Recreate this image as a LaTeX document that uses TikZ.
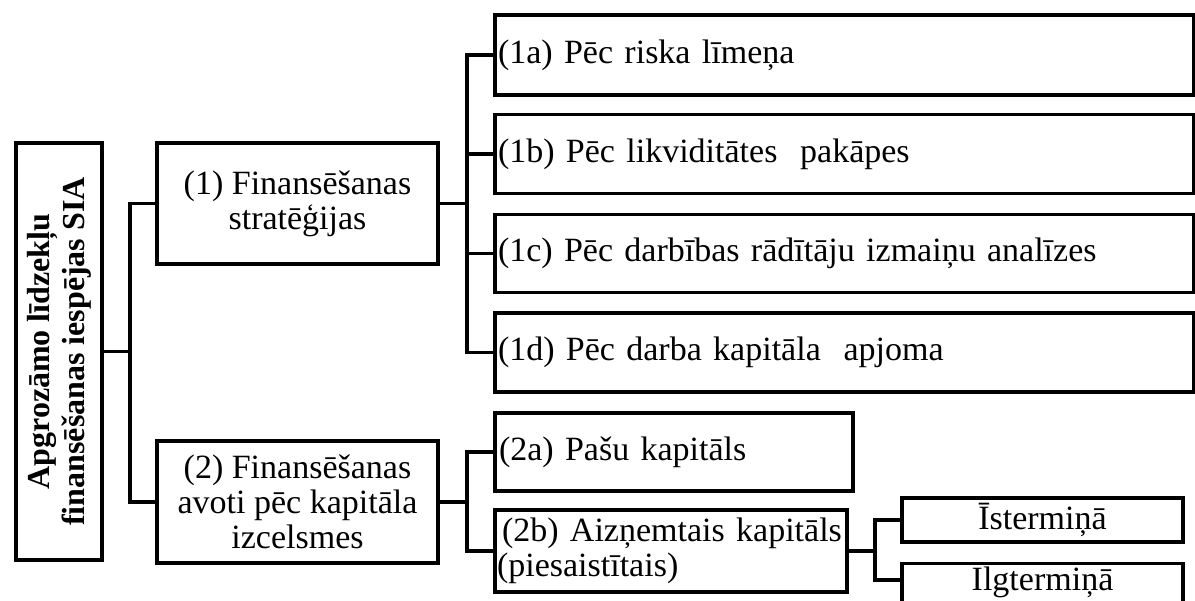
\documentclass[tikz,border=0pt]{standalone}
\usepackage{fontspec}
\setmainfont{Liberation Serif}
\tikzset{
  box/.style={draw, line width=3.4pt, inner sep=0pt, font=\fontsize{34}{35}\selectfont},
  leftbox/.style={box, inner xsep=3pt, align=left},
  conn/.style={line width=3.2pt, line join=miter},
}
\begin{document}
\begin{tikzpicture}[x=1pt,y=-1pt]
\useasboundingbox (0,0) rectangle (1195,601);
% root
\node[box, rotate=90, minimum width=417pt, minimum height=86pt, align=center,
      font=\fontsize{32}{35}\selectfont\bfseries] (root) at (59,351.5)
  {Apgrozāmo līdzekļu\\finansēšanas iespējas SIA};
% level 1
\node[box, minimum width=281pt, minimum height=121pt, align=center] (n1) at (297.5,203.5)
  {(1) Finansēšanas\\stratēģijas};
\node[box, minimum width=281pt, minimum height=122pt, align=center] (n2) at (297.5,502)
  {(2) Finansēšanas\\avoti pēc kapitāla\\izcelsmes};
% level 2 under (1)
\node[leftbox, minimum width=699pt, text width=693pt, minimum height=80pt] (c1a) at (844.5,55) {(1a) Pēc riska līmeņa};
\node[leftbox, minimum width=699pt, text width=693pt, minimum height=79pt] (c1b) at (844.5,154) {(1b) Pēc likviditātes\ \ pakāpes};
\node[leftbox, minimum width=699pt, text width=693pt, minimum height=78pt] (c1c) at (844.5,253.5) {(1c) Pēc darbības rādītāju izmaiņu analīzes};
\node[leftbox, minimum width=699pt, text width=693pt, minimum height=79pt] (c1d) at (844.5,352.5) {(1d) Pēc darba kapitāla\ \ apjoma};
% level 2 under (2)
\node[leftbox, minimum width=358pt, text width=350pt, minimum height=78pt, inner xsep=4pt] (c2a) at (674,452) {(2a) Pašu kapitāls};
\node[leftbox, minimum width=352pt, text width=348pt, minimum height=82pt, inner xsep=2pt] (c2b) at (671,551)
  {\hspace*{5pt}(2b) Aizņemtais kapitāls\\(piesaistītais)};
% level 3
\node[box, minimum width=281pt, minimum height=44pt] (ist) at (1042.5,520) {Īstermiņā};
\node[box, anchor=north, minimum width=281pt, text height=27pt, text depth=29pt] (ilg) at (1042.5,562) {Ilgtermiņā};
% bus junctions
\coordinate (b0) at (130,351.5);
\coordinate (b1) at (467,203.5);
\coordinate (b2) at (467,502);
\coordinate (b3) at (875,551);
\coordinate (ilgin) at ([yshift=-18pt]ilg.north west);
% connectors
\draw[conn] (root.south) -- (b0);
\draw[conn] (n1.west) -| (b0);
\draw[conn] (n2.west) -| (b0);
\draw[conn] (n1.east) -- (b1);
\draw[conn] (c1a.west) -| (b1);
\draw[conn] (c1b.west) -| (b1);
\draw[conn] (c1c.west) -| (b1);
\draw[conn] (c1d.west) -| (b1);
\draw[conn] (n2.east) -- (b2);
\draw[conn] (c2a.west) -| (b2);
\draw[conn] (c2b.west) -| (b2);
\draw[conn] (c2b.east) -- (b3);
\draw[conn] (ist.west) -| (b3);
\draw[conn] (ilgin) -| (b3);
\end{tikzpicture}
\end{document}
